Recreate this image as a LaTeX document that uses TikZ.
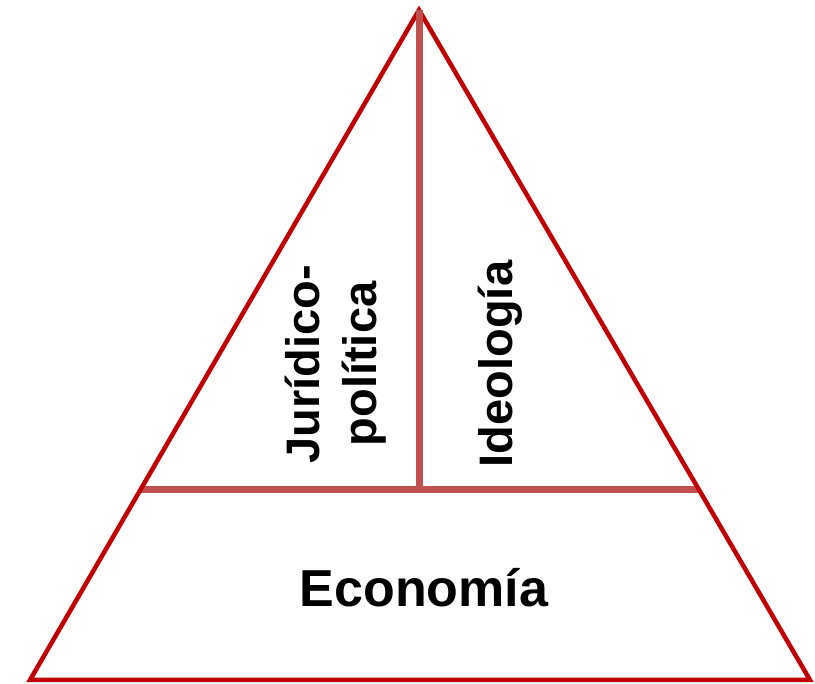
\documentclass[tikz,border=0pt]{standalone}
\usepackage{fontspec}
\setmainfont{Liberation Sans}
\definecolor{darkred}{HTML}{C00000}
\definecolor{softred}{HTML}{C0504D}
\tikzset{
  outline/.style={color=darkred, line width=4.5pt, line join=miter},
  divider/.style={color=softred, line width=7pt},
  label/.style={font=\fontsize{47}{57}\selectfont\bfseries, align=center, inner sep=0pt}
}
\begin{document}
\begin{tikzpicture}[x=1pt,y=-1pt]
\useasboundingbox (0,0) rectangle (815,684);
\def\h{490} % height of the floor line
\coordinate (Top) at (419,10);
\coordinate (BL) at (30,680);
\coordinate (BR) at (810,680);
\coordinate (FL) at (140.5,\h);
\coordinate (FR) at (699,\h);
\coordinate (FM) at (419,\h);
\draw [divider] (FL) -- (FR);
\draw [outline] (Top) -- (BL) -- (BR) -- cycle;
\draw [divider] (Top) -- (FM);
\node [label, font=\fontsize{52}{57}\selectfont\bfseries] (eco) at (424,588) {Econom\'ia};
\node [label, rotate=90] (jur) at (336,364) {Jur\'idico-\\pol\'itica};
\node [label, rotate=90] (ideo) at (500,364) {Ideolog\'ia};
\end{tikzpicture}
\end{document}
